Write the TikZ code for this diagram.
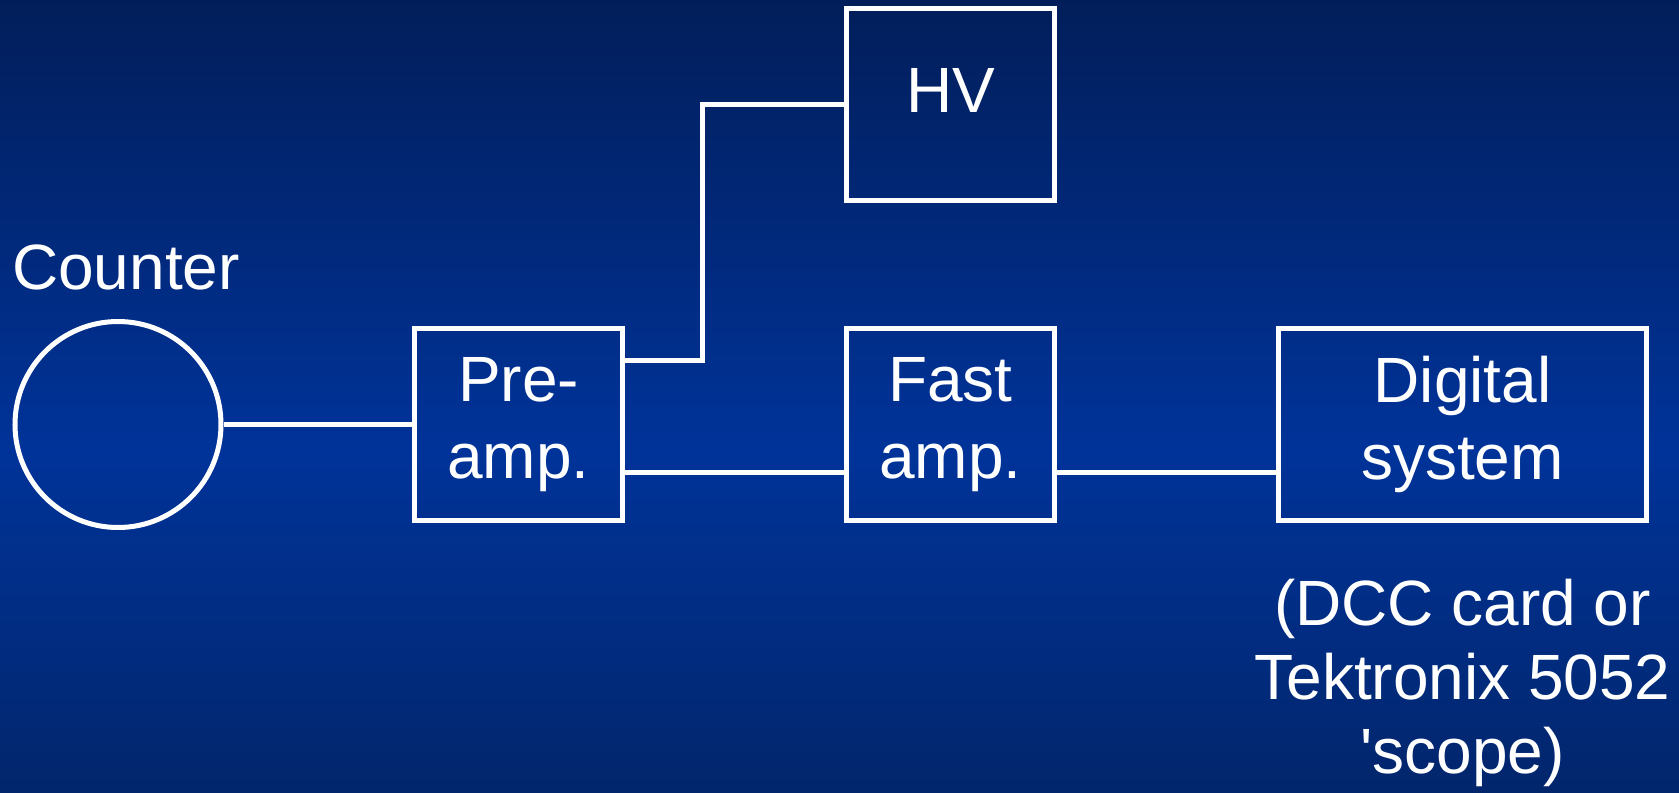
\documentclass[tikz,border=0pt]{standalone}
\usepackage{fontspec}
\setmainfont{Liberation Sans}
\usetikzlibrary{calc}
\definecolor{bgtop}{RGB}{2,30,90}
\definecolor{bgmid}{RGB}{0,51,153}
\definecolor{bgbot}{RGB}{2,38,108}
\begin{document}
\begin{tikzpicture}[x=0.5pt,y=-0.5pt,
  unit/.style={draw=white, line width=2.5pt, minimum width=104pt, minimum height=96pt,
    inner sep=0pt, align=center, text=white, font=\fontsize{32}{38.5}\selectfont},
  wire/.style={draw=white, line width=2.5pt},
  lbl/.style={text=white, inner sep=0pt, align=center, font=\fontsize{32}{37}\selectfont}]
\useasboundingbox (0,0) rectangle (1679,792);
\shade[top color=bgtop, bottom color=bgmid] (0,0) rectangle (1679,451);
\shade[top color=bgmid, bottom color=bgbot] (0,450) rectangle (1679,792);

\node[unit, circle, minimum size=103pt] (ctr) at (118,424.5) {};
\node[lbl, anchor=base] (ctrlbl) at (126,289) {Counter};
\node[unit] (pre) at (518.5,424.5) {Pre-\\amp.};
\node[unit, text depth=14.6pt] (hv) at (950.5,104.6) {HV};
\node[unit] (fast) at (950.5,424.5) {Fast\\amp.};
\node[unit, minimum width=184pt] (dig) at (1462.5,424.5) {Digital\\system};
\node[lbl, anchor=north] (note) at (1462.5,579) {(DCC card or\\Tektronix 5052\\\textquotesingle scope)};

\coordinate (hvout) at ($(pre.east)+(0,-64)$);
\coordinate (fastout) at ($(pre.east)+(0,48)$);
\draw[wire] (ctr.east) -- (pre.west);
\draw[wire] (hvout) -- (702.5,0 |- hvout) -- (702.5,0 |- hv.west) -- (hv.west);
\draw[wire] (fastout) -- (fastout -| fast.west);
\draw[wire] (fastout -| fast.east) -- (fastout -| dig.west);
\end{tikzpicture}
\end{document}
